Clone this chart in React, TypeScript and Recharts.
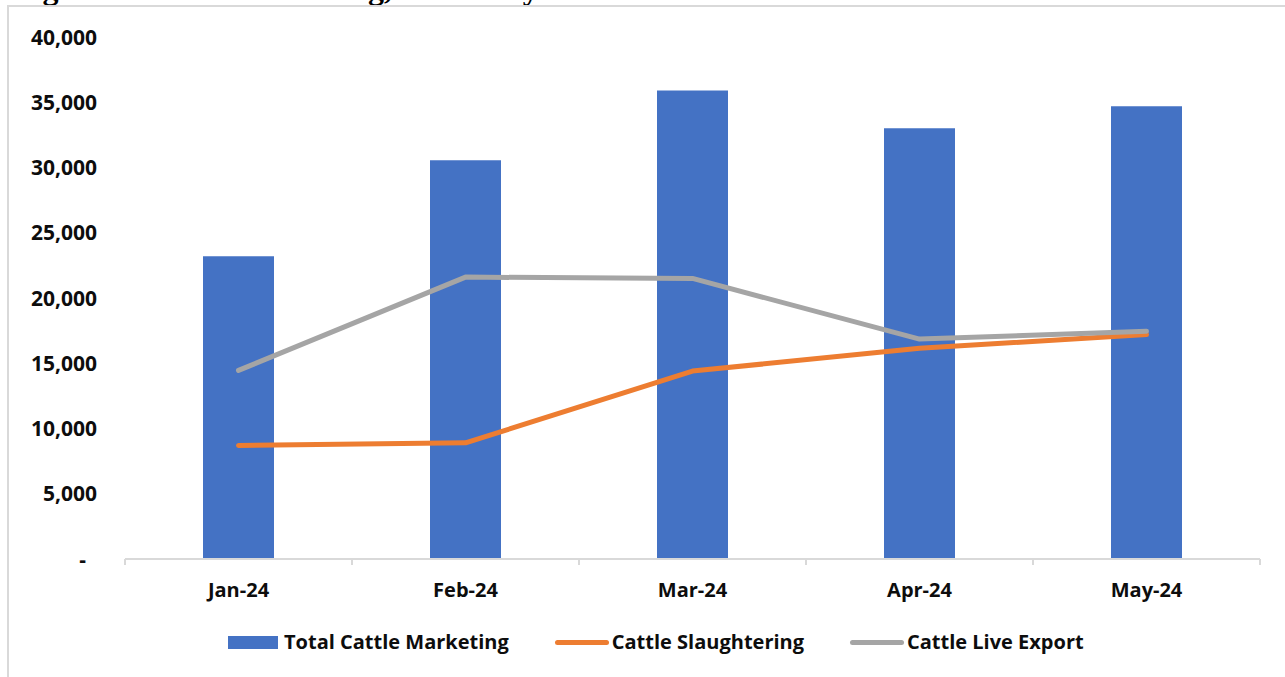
import { ComposedChart, Bar, Line, XAxis, YAxis } from 'recharts'

const MONTHS = ['Jan-24', 'Feb-24', 'Mar-24', 'Apr-24', 'May-24']
const TOTAL_MARKETING = [23200, 30550, 35900, 33000, 34700]
const SLAUGHTERING = [8700, 8900, 14400, 16150, 17200]
const LIVE_EXPORT = [14450, 21600, 21500, 16850, 17450]
const Y_TICKS = [0, 5000, 10000, 15000, 20000, 25000, 30000, 35000, 40000]

const BLUE = '#4472C4'
const ORANGE = '#ED7D31'
const GRAY = '#A5A5A5'
const AXIS = '#d9d9d9'
const FONT = '"Open Sans", Calibri, sans-serif'
const INK = '#0d0d0d'

// months sit at the middle of each unit slot on a numeric x axis
const data = MONTHS.map((month, i) => ({
  pos: i + 0.5,
  month,
  total: TOTAL_MARKETING[i],
  slaughter: SLAUGHTERING[i],
  live: LIVE_EXPORT[i],
}))

// whole numbers are slot edges (tick marks), halves are month labels
const X_TICKS = [0, ...data.flatMap((d) => [d.pos, d.pos + 0.5])]

// accounting style: zero shows as a dash, pushed in a little from the right
function YTick({ x, y, payload }: any) {
  const zero = payload.value === 0
  return (
    <text
      x={zero ? x - 11 : x}
      y={y}
      dy="0.36em"
      textAnchor="end"
      fontFamily={FONT}
      fontSize={21}
      fontWeight={700}
      fill={INK}
    >
      {zero ? '-' : payload.value.toLocaleString('en-US')}
    </text>
  )
}

function XTick({ x, y, payload }: any) {
  const v = payload.value as number
  if (Number.isInteger(v)) {
    return <line x1={x} x2={x} y1={y} y2={y + 6} stroke={AXIS} strokeWidth={2} />
  }
  return (
    <text x={x} y={y + 38} textAnchor="middle" fontFamily={FONT} fontSize={20} fontWeight={700} fill={INK}>
      {MONTHS[Math.floor(v)]}
    </text>
  )
}

const LEGEND_ITEMS = [
  { label: 'Total Cattle Marketing', color: BLUE, kind: 'box' },
  { label: 'Cattle Slaughtering', color: ORANGE, kind: 'line' },
  { label: 'Cattle Live Export', color: GRAY, kind: 'line' },
]

function ChartLegend() {
  return (
    <div style={{ position: 'absolute', top: 630, left: 0, display: 'flex', alignItems: 'center', gap: 46, paddingLeft: 228 }}>
      {LEGEND_ITEMS.map((it) => (
        <div key={it.label} style={{ display: 'flex', alignItems: 'center' }}>
          {it.kind === 'box' ? (
            <div style={{ width: 50, height: 13, background: it.color, marginRight: 6 }} />
          ) : (
            <div style={{ width: 54, height: 5, borderRadius: 3, background: it.color, marginRight: 3 }} />
          )}
          <span style={{ fontFamily: FONT, fontSize: 20, fontWeight: 700, color: INK, lineHeight: '24px' }}>
            {it.label}
          </span>
        </div>
      ))}
    </div>
  )
}

export default function App() {
  return (
    <div style={{ position: 'absolute', left: 0, top: 0, width: 1285, height: 677, overflow: 'hidden', background: '#fff' }}>
      <div
        style={{
          position: 'absolute',
          left: 14,
          top: -30,
          fontFamily: '"Liberation Serif", "Times New Roman", serif',
          fontWeight: 700,
          fontSize: 32,
          lineHeight: '36px',
          color: '#000',
          whiteSpace: 'nowrap',
        }}
      >
        Figure 6: Cattle Marketing, Jan - May 24
      </div>
      <div
        style={{
          position: 'absolute',
          left: 7,
          top: 5,
          width: 1320,
          height: 720,
          border: `2px solid ${AXIS}`,
          background: '#fff',
        }}
      />
      <div style={{ position: 'absolute', left: 0, top: 0 }}>
        <ComposedChart width={1285} height={677} data={data} margin={{ top: 37, right: 25, bottom: 78, left: 0 }}>
          <XAxis
            dataKey="pos"
            type="number"
            domain={[0, MONTHS.length]}
            ticks={X_TICKS}
            interval={0}
            height={40}
            tickSize={0}
            tickMargin={0}
            tickLine={false}
            tick={<XTick />}
            axisLine={{ stroke: AXIS, strokeWidth: 2 }}
          />
          <YAxis
            width={125}
            domain={[0, 40000]}
            ticks={Y_TICKS}
            axisLine={false}
            tickLine={false}
            tickSize={0}
            tickMargin={28}
            tick={<YTick />}
            interval={0}
          />
          <Bar dataKey="total" name="Total Cattle Marketing" fill={BLUE} barSize={71} isAnimationActive={false} />
          <Line
            type="linear"
            dataKey="slaughter"
            name="Cattle Slaughtering"
            stroke={ORANGE}
            strokeWidth={5}
            strokeLinecap="round"
            strokeLinejoin="round"
            dot={false}
            activeDot={false}
            isAnimationActive={false}
          />
          <Line
            type="linear"
            dataKey="live"
            name="Cattle Live Export"
            stroke={GRAY}
            strokeWidth={5}
            strokeLinecap="round"
            strokeLinejoin="round"
            dot={false}
            activeDot={false}
            isAnimationActive={false}
          />
        </ComposedChart>
      </div>
      <ChartLegend />
    </div>
  )
}
